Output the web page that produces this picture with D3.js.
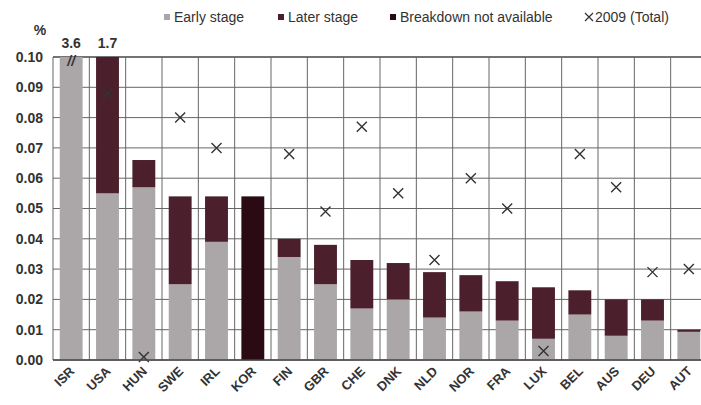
<!DOCTYPE html>
<html>
<head>
<meta charset="utf-8">
<script src="https://cdn.jsdelivr.net/npm/d3@7"></script>
<style>
  body { margin: 0; background: #fff; }
  svg { display: block; font-family: "Liberation Sans", Arial, sans-serif; }
</style>
</head>
<body>
<div id="chart"></div>
<script>
// data (% of GDP)
var countries = ["ISR","USA","HUN","SWE","IRL","KOR","FIN","GBR","CHE","DNK","NLD","NOR","FRA","LUX","BEL","AUS","DEU","AUT"];
var earlyStage = [3.6, 0.055, 0.057, 0.025, 0.039, 0, 0.034, 0.025, 0.017, 0.020, 0.014, 0.016, 0.013, 0.007, 0.015, 0.008, 0.013, 0.0093];
var laterStage = [0, 1.645, 0.009, 0.029, 0.015, 0, 0.006, 0.013, 0.016, 0.012, 0.015, 0.012, 0.013, 0.017, 0.008, 0.012, 0.007, 0.0007];
var notAvailable = [0, 0, 0, 0, 0, 0.054, 0, 0, 0, 0, 0, 0, 0, 0, 0, 0, 0, 0];
var total2009 = [null, 0.088, 0.001, 0.080, 0.070, null, 0.068, 0.049, 0.077, 0.055, 0.033, 0.060, 0.050, 0.003, 0.068, 0.057, 0.029, 0.030];
var offScale = [{country: "ISR", label: "3.6"}, {country: "USA", label: "1.7"}];
var yTicks = [0, 0.01, 0.02, 0.03, 0.04, 0.05, 0.06, 0.07, 0.08, 0.09, 0.10];
var seriesNames = ["Early stage", "Later stage", "Breakdown not available"];
var seriesColors = ["#aba6a8", "#4b1f2b", "#2a0b14"];

var W = 701, H = 405;
var margin = {top: 57, right: -6, bottom: 45, left: 53};
var width = W - margin.left - margin.right,
    height = H - margin.top - margin.bottom;

var svg = d3.select("#chart").append("svg")
    .attr("width", W)
    .attr("height", H)
  .append("g")
    .attr("transform", "translate(" + margin.left + "," + margin.top + ")");

var x = d3.scaleBand().domain(countries).range([0, width]).paddingInner(0.37).paddingOuter(0.185);
var y = d3.scaleLinear().domain([0, 0.10]).range([height, 0]).clamp(true);
var step = x.step();

// grid
svg.append("g").selectAll("line.h")
    .data(yTicks)
  .enter().append("line")
    .attr("x1", 0).attr("x2", width)
    .attr("y1", d => y(d)).attr("y2", d => y(d))
    .attr("stroke", d => d == 0.10 ? "#444" : "#666")
    .attr("stroke-width", d => d == 0.10 ? 1.6 : 1);

svg.append("g").selectAll("line.v")
    .data(countries)
  .enter().append("line")
    .attr("x1", d => x(d) - x.paddingOuter() * step)
    .attr("x2", d => x(d) - x.paddingOuter() * step)
    .attr("y1", 0).attr("y2", height)
    .attr("stroke", "#666");

// stacked bars
var rows = countries.map(function(c, i) {
  return {country: c, early: earlyStage[i], later: laterStage[i], na: notAvailable[i]};
});
var stack = d3.stack().keys(["early", "later", "na"]);
var layers = stack(rows);

svg.append("g").selectAll("g")
    .data(layers)
  .enter().append("g")
    .attr("fill", (d, i) => seriesColors[i])
  .selectAll("rect")
    .data(d => d)
  .enter().append("rect")
    .attr("x", d => x(d.data.country))
    .attr("width", x.bandwidth())
    .attr("y", d => y(d[1]))
    .attr("height", d => Math.max(0, y(d[0]) - y(d[1])));

// off-scale labels and break marks
svg.append("g").selectAll("text")
    .data(offScale)
  .enter().append("text")
    .attr("x", d => x(d.country) + x.bandwidth() / 2)
    .attr("y", -9)
    .attr("text-anchor", "middle")
    .style("font-size", "14px")
    .style("font-weight", "bold")
    .attr("fill", "#333")
    .text(d => d.label);

svg.append("text")
    .attr("x", x("ISR") + x.bandwidth() / 2)
    .attr("y", 9)
    .attr("text-anchor", "middle")
    .style("font-size", "14px")
    .style("font-weight", "bold")
    .style("font-style", "italic")
    .attr("fill", "#333")
    .text("//");

// 2009 totals
var crossSize = 5;
svg.append("g").selectAll("path")
    .data(countries.map((c, i) => ({country: c, v: total2009[i]})).filter(d => d.v != null))
  .enter().append("path")
    .attr("transform", d => "translate(" + (x(d.country) + x.bandwidth() / 2) + "," + y(d.v) + ")")
    .attr("d", "M" + -crossSize + "," + -crossSize + "L" + crossSize + "," + crossSize + "M" + -crossSize + "," + crossSize + "L" + crossSize + "," + -crossSize)
    .attr("stroke", "#333")
    .attr("stroke-width", 1.4)
    .attr("fill", "none");

// axes
svg.append("line")
    .attr("x1", 0).attr("x2", width)
    .attr("y1", height).attr("y2", height)
    .attr("stroke", "#444").attr("stroke-width", 1.5);

var yAxis = svg.append("g")
    .call(d3.axisLeft(y).tickValues(yTicks).tickFormat(d3.format(".2f")).tickSize(0).tickPadding(10));
yAxis.select(".domain").remove();
yAxis.selectAll("text")
    .style("font-size", "14px")
    .style("font-weight", "bold")
    .attr("fill", "#333");

var xAxis = svg.append("g")
    .attr("transform", "translate(0," + height + ")")
    .call(d3.axisBottom(x).tickSize(0).tickPadding(0));
xAxis.select(".domain").remove();
xAxis.selectAll("text")
    .attr("text-anchor", "end")
    .attr("dy", 0)
    .attr("transform", "translate(4,12) rotate(-45)")
    .style("font-size", "13px")
    .style("font-weight", "bold")
    .attr("fill", "#333");

svg.append("text")
    .attr("x", -13).attr("y", -22)
    .attr("text-anchor", "middle")
    .style("font-size", "14px")
    .style("font-weight", "bold")
    .attr("fill", "#333")
    .text("%");

// legend
var legend = d3.select("svg").append("g").attr("transform", "translate(0,22)");
var legendX = [164, 278, 390];
seriesNames.forEach(function(name, i) {
  legend.append("rect")
      .attr("x", legendX[i]).attr("y", -8)
      .attr("width", 6).attr("height", 6)
      .attr("fill", seriesColors[i]);
  legend.append("text")
      .attr("x", legendX[i] + 10).attr("y", 0)
      .style("font-size", "14px")
      .attr("fill", "#333")
      .text(name);
});
legend.append("path")
    .attr("transform", "translate(589,-5)")
    .attr("d", "M-4,-4L4,4M-4,4L4,-4")
    .attr("stroke", "#333").attr("stroke-width", 1.2);
legend.append("text")
    .attr("x", 595).attr("y", 0)
    .style("font-size", "14px")
    .attr("fill", "#333")
    .text("2009 (Total)");
</script>
</body>
</html>
